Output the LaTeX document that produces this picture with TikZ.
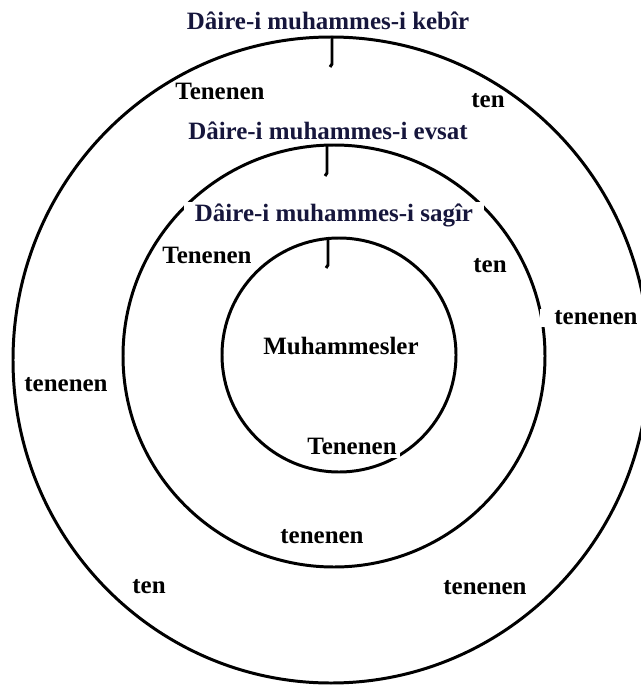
\documentclass[tikz,border=0pt]{standalone}
\usepackage{fontspec}
\setmainfont{Liberation Serif}
\definecolor{titleblue}{RGB}{22,22,60}
\tikzset{
	ring/.style={line width=1.7pt},
	lbl/.style={font=\bfseries\fontsize{14.2}{16}\selectfont, inner sep=1pt},
	title/.style={lbl, text=titleblue},
	cut/.style={fill=white}
}

\begin{document}
\begin{tikzpicture}[x=0.02cm, y=-0.02cm]
	\useasboundingbox (0,0) rectangle (641,686);
	\draw[ring] (331,360) ellipse (318 and 323);
	\draw[ring] (334,356) circle (211);
	\draw[ring] (339,355) circle (117);
	\foreach \x/\y in {332/36, 327/145, 328/237}
	{
		\draw[ring] (\x,\y) -- (\x,\y+28) -- (\x-2,\y+31);
	}
	\node[title] (kebir) at (328,21) {Dâire-i muhammes-i kebîr};
	\node[title] (evsat) at (328,131) {Dâire-i muhammes-i evsat};
	\node[title, cut, inner xsep=6pt] (sagir) at (334,215) {Dâire-i muhammes-i sagîr};
	\node[lbl] (tenenenA) at (220,91) {Tenenen};
	\node[lbl] (tenA) at (488,101) {ten};
	\node[lbl] (tenenenB) at (207,255) {Tenenen};
	\node[lbl] (tenB) at (490,266) {ten};
	\node[lbl, cut, inner xsep=8pt] (tenenenC) at (596,318) {tenenen};
	\node[lbl] (tenenenD) at (66,385) {tenenen};
	\node[lbl] (center) at (341,346) {Muhammesler};
	\node[lbl, cut, inner sep=2pt] (tenenenE) at (352,446) {Tenenen};
	\node[lbl] (tenenenF) at (322,537) {tenenen};
	\node[lbl] (tenC) at (149,587) {ten};
	\node[lbl] (tenenenG) at (485,588) {tenenen};
\end{tikzpicture}
\end{document}
